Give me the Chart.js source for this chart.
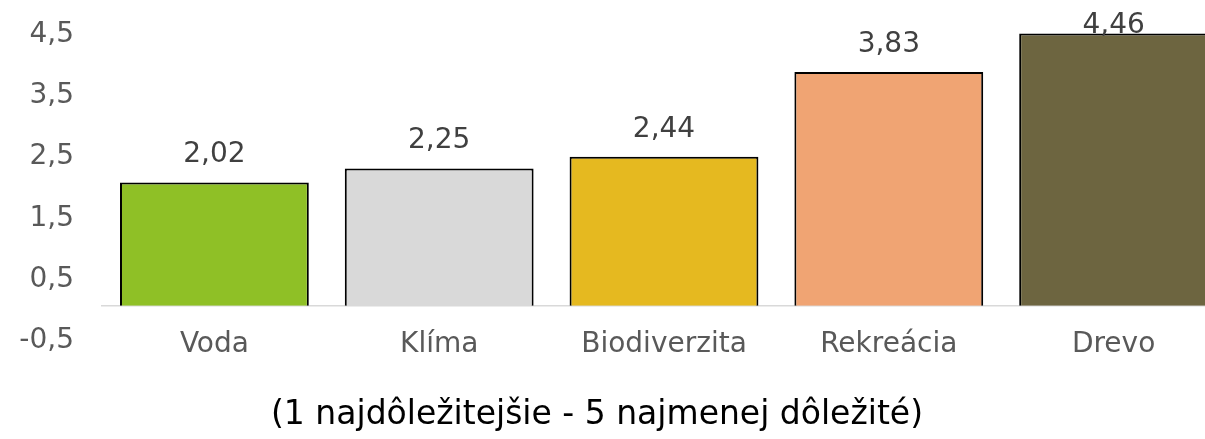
<!DOCTYPE html>
<html>
<head>
<meta charset="utf-8">
<script src="https://cdn.jsdelivr.net/npm/chart.js@4/dist/chart.umd.min.js"></script>
<style>
  html, body { margin: 0; padding: 0; background: #fff; overflow: hidden; }
  #wrap { width: 1230px; height: 439px; }
</style>
</head>
<body>
<div id="wrap"><canvas id="c"></canvas></div>
<script>
// Dáta grafu — priemerné poradie dôležitosti.
const CATEGORIES = ['Voda', 'Klíma', 'Biodiverzita', 'Rekreácia', 'Drevo'];
const VALUES     = [2.02, 2.25, 2.44, 3.83, 4.46];
const COLORS     = ['#8fc026', '#d9d9d9', '#e5b920', '#f0a473', '#6d6540'];
const Y_TICKS    = [-0.5, 0.5, 1.5, 2.5, 3.5, 4.5];
const TITLE      = '(1 najdôležitejšie - 5 najmenej dôležité)';

const FONT = "'DejaVu Sans', sans-serif";
const fmtTick = v => v.toFixed(1).replace('.', ',');
const fmtVal  = v => v.toFixed(2).replace('.', ',');

// Popisky hodnôt nad stĺpcami (Excel ich drží vnútri plochy grafu).
const valueLabels = {
  id: 'valueLabels',
  afterDatasetsDraw(chart) {
    const { ctx, chartArea } = chart;
    const meta = chart.getDatasetMeta(0);
    ctx.save();
    ctx.font = '28px ' + FONT;
    ctx.fillStyle = '#404040';
    ctx.textAlign = 'center';
    ctx.textBaseline = 'alphabetic';
    meta.data.forEach((bar, i) => {
      const y = Math.max(bar.y - 20, chartArea.top + 2);
      ctx.fillText(fmtVal(VALUES[i]), bar.x, y);
    });
    ctx.restore();
  }
};

new Chart(document.getElementById('c'), {
  type: 'bar',
  data: {
    labels: CATEGORIES,
    datasets: [{
      data: VALUES,
      backgroundColor: COLORS,
      borderColor: '#000',
      borderWidth: 2,
      borderSkipped: 'bottom',
      categoryPercentage: 1,
      barPercentage: 0.84
    }]
  },
  options: {
    responsive: true,
    maintainAspectRatio: false,
    animation: false,
    // ľavý okraj záporný, aby bol nadpis vycentrovaný ako v origináli
    layout: { padding: { left: -32, top: 31, right: 4, bottom: 4 } },
    plugins: {
      legend: { display: false },
      tooltip: { enabled: false },
      title: {
        display: true,
        position: 'bottom',
        text: TITLE,
        color: '#000',
        font: { family: FONT, size: 33, weight: 'normal' },
        padding: { top: 59, bottom: 0 }
      }
    },
    scales: {
      x: {
        position: { y: 0 },
        grid: { display: false, drawTicks: false },
        border: { display: true, color: '#d9d9d9', width: 1.5 },
        ticks: { color: '#595959', font: { family: FONT, size: 28 }, padding: 22 },
        afterFit: s => { s.paddingTop = 0; s.paddingBottom = 0; }
      },
      y: {
        min: -0.5,
        max: 4.5,
        afterBuildTicks: s => { s.ticks = Y_TICKS.map(v => ({ value: v })); },
        afterFit: s => { s.width = 134; s.paddingTop = 0; s.paddingBottom = 0; },
        grid: { display: false, drawTicks: false },
        border: { display: false },
        ticks: {
          color: '#595959',
          // prázdny prvý riadok posunie číslo o pár px nižšie (ako v Exceli)
          font: { family: FONT, size: 28, lineHeight: '8px' },
          padding: 28,
          callback: v => ['', fmtTick(v)]
        }
      }
    }
  },
  plugins: [valueLabels]
});
</script>
</body>
</html>
